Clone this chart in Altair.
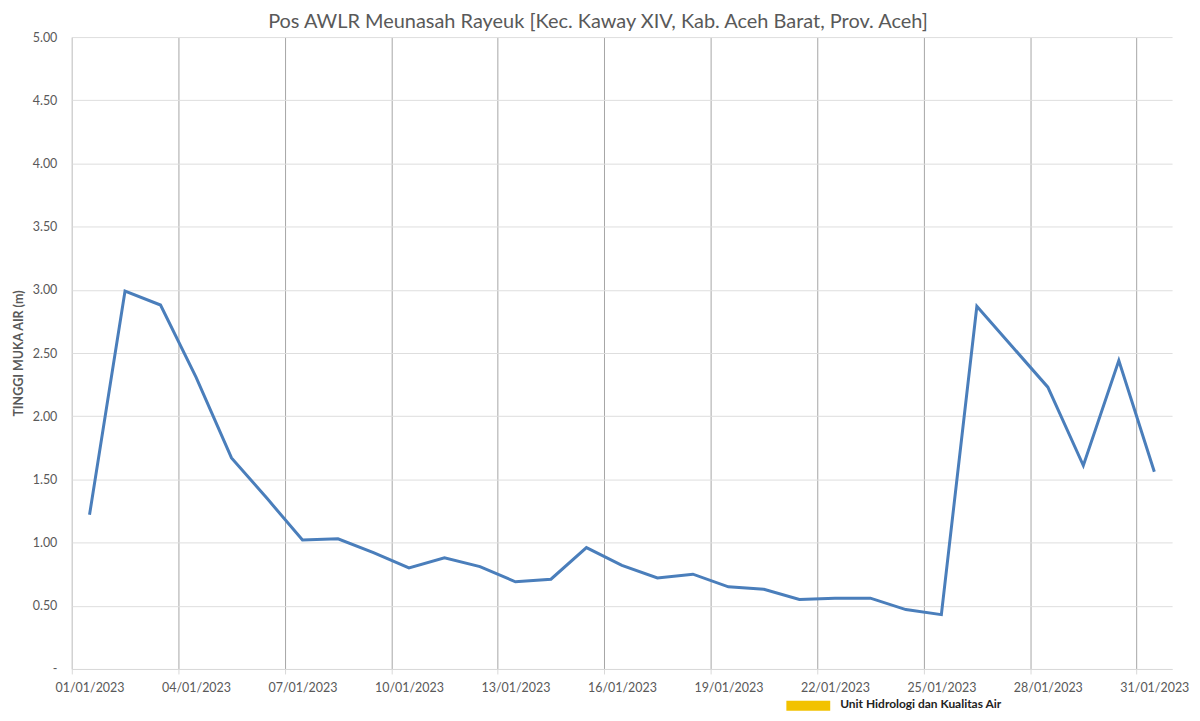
import altair as alt
import pandas as pd

# ---- data ----
days = list(range(1, 32))
dates = [f"2023-01-{d:02d}T12:00:00" for d in days]
water_level = [1.22, 2.99, 2.88, 2.31, 1.67, 1.35, 1.02, 1.03, 0.92, 0.80,
               0.88, 0.81, 0.69, 0.71, 0.96, 0.82, 0.72, 0.75, 0.65, 0.63,
               0.55, 0.56, 0.56, 0.47, 0.43, 2.87, 2.55, 2.23, 1.61, 2.44,
               1.56]
tick_days = [1, 4, 7, 10, 13, 16, 19, 22, 25, 28, 31]
y_ticks = [0, 0.5, 1.0, 1.5, 2.0, 2.5, 3.0, 3.5, 4.0, 4.5, 5.0]
title_text = "Pos AWLR Meunasah Rayeuk [Kec. Kaway XIV, Kab. Aceh Barat, Prov. Aceh]"
y_title = "TINGGI MUKA AIR (m)"
footer_text = "Unit Hidrologi dan Kualitas Air"

df = pd.DataFrame({"date": dates, "level": water_level})

W, H = 1104, 634
FONT = "Lato"
GREY = "#595959"

x_scale = alt.Scale(domain=[alt.DateTime(year=2023, month=1, date=1),
                            alt.DateTime(year=2023, month=2, date=1)])

line = alt.Chart(df).mark_line(color="#4a7ebb", strokeWidth=3).encode(
    x=alt.X("date:T", scale=x_scale,
            axis=alt.Axis(values=[alt.DateTime(year=2023, month=1, date=d) for d in tick_days],
                          format="%d/%m/%Y", labelOffset=W / 31 / 2, labelAngle=0,
                          labelFlush=False, labelOverlap=False,
                          grid=True, gridColor="#a6a6a6", gridWidth=1,
                          domainColor="#d9d9d9", tickColor="#d9d9d9", tickSize=5,
                          labelColor=GREY, labelFontSize=12.5, labelFont=FONT,
                          labelPadding=8, title=None)),
    y=alt.Y("level:Q", scale=alt.Scale(domain=[0, 5], nice=False),
            axis=alt.Axis(values=y_ticks,
                          labelExpr="datum.value == 0 ? '-' : format(datum.value, '.2f')",
                          grid=True, gridColor="#dedede", gridWidth=1,
                          domainColor="#d9d9d9", tickSize=0, labelPadding=15,
                          labelColor=GREY, labelFontSize=12.5, labelFont=FONT,
                          title=y_title, titleFont=FONT, titleFontSize=12.5,
                          titleFontWeight="bold", titleColor=GREY, titlePadding=7)),
)

title_df = pd.DataFrame({"t": [title_text]})
title = alt.Chart(title_df).mark_text(fontSize=20, font=FONT, color=GREY,
                                      baseline="alphabetic", align="center").encode(
    text="t:N", x=alt.value(528), y=alt.value(-9))

footer_df = pd.DataFrame({"t": [footer_text]})
footer = alt.Chart(footer_df).mark_text(fontSize=12, font=FONT, color="#222222",
                                        fontWeight="bold", baseline="bottom", align="left").encode(
    text="t:N", x=alt.value(771), y=alt.value(H + 42))
logo = alt.Chart(footer_df).mark_rect(color="#f2c200").encode(
    x=alt.value(717), x2=alt.value(761), y=alt.value(H + 32), y2=alt.value(H + 42))

chart = alt.layer(line, title, footer, logo).properties(
    width=W, height=H,
    autosize=alt.AutoSizeParams(type="none"),
    padding={"left": 64, "top": 28, "right": 20, "bottom": 43},
).configure_view(stroke=None)

chart.save("out.html", embed_options={"renderer": "svg", "actions": False})
